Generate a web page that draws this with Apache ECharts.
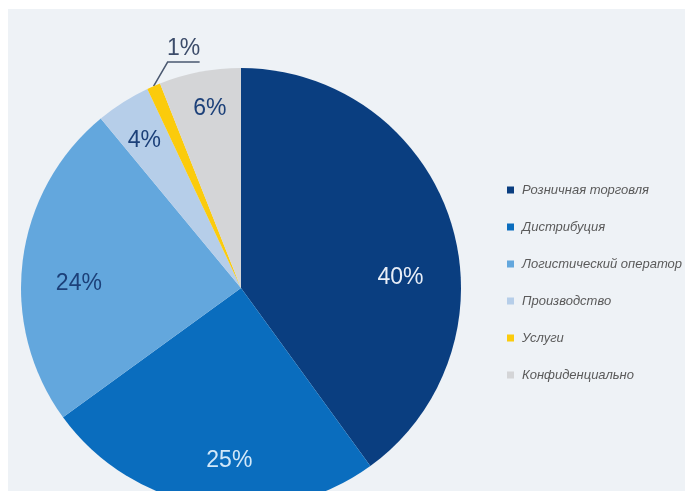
<!DOCTYPE html>
<html>
<head>
<meta charset="utf-8">
<script src="https://cdn.jsdelivr.net/npm/echarts@6/dist/echarts.min.js"></script>
<style>
  html, body { margin: 0; padding: 0; background: #ffffff; }
  #chart { position: absolute; left: 8px; top: 9px; width: 677px; height: 482px; }
</style>
</head>
<body>
<div id="chart"></div>
<script>
// Segments of the market, in percent
const categories = [
  'Розничная торговля',
  'Дистрибуция',
  'Логистический оператор',
  'Производство',
  'Услуги',
  'Конфиденциально'
];
const shares = [40, 25, 24, 4, 1, 6];

const sliceColors = ['#0a3e80', '#0a6dbe', '#63a7dd', '#b6cee9', '#fbcb0c', '#d4d5d7'];
const labelColors = ['#e8eef7', '#d2e8f9', '#1c4079', '#1c4079', '#3c4c6a', '#1c4079'];
// nudges of the inside labels away from the slice middle
const labelShift = [[52, 25], [6, 61], [-50, 10], [-36, -52], [0, 0], [-10, -68]];
const OUTSIDE_INDEX = 4;

const chart = echarts.init(document.getElementById('chart'), null, { renderer: 'canvas' });

const data = categories.map((name, i) => {
  const item = {
    name: name,
    value: shares[i],
    itemStyle: { color: sliceColors[i] },
    label: { color: labelColors[i] }
  };
  if (i === OUTSIDE_INDEX) {
    item.label = { position: 'outside', color: labelColors[i], fontSize: 23 };
    item.labelLine = {
      show: true,
      length: 20,
      length2: 30,
      lineStyle: { color: '#4a5870', width: 1.5 }
    };
  }
  return item;
});

chart.setOption({
  backgroundColor: '#eef2f6',
  animation: false,
  legend: {
    orient: 'vertical',
    left: 494,
    top: 169,
    icon: 'rect',
    itemWidth: 7,
    itemHeight: 7,
    itemGap: 23,
    selectedMode: false,
    data: categories,
    textStyle: {
      color: '#5a5a5a',
      fontSize: 13,
      fontStyle: 'italic',
      fontFamily: 'Liberation Sans, Arial, sans-serif',
      lineHeight: 14,
      padding: [0, 0, 0, 3]
    }
  },
  series: [{
    type: 'pie',
    center: [233, 279],
    radius: 220,
    startAngle: 90,
    clockwise: true,
    avoidLabelOverlap: false,
    silent: true,
    emphasis: { disabled: true },
    label: {
      show: true,
      position: 'inside',
      formatter: '{c}%',
      fontSize: 23,
      fontFamily: 'Liberation Sans, Arial, sans-serif'
    },
    labelLine: { show: false },
    labelLayout: function (p) {
      if (p.dataIndex === OUTSIDE_INDEX && p.labelLinePoints) {
        const a = p.labelLinePoints[0];
        const b = [a[0] + 14, a[1] - 24];
        const c = [b[0] + 32, b[1]];
        return {
          x: (b[0] + c[0]) / 2,
          y: b[1] - 2,
          align: 'center',
          verticalAlign: 'bottom',
          labelLinePoints: [a, b, c]
        };
      }
      const s = labelShift[p.dataIndex];
      return { dx: s[0], dy: s[1] };
    },
    data: data
  }]
});
</script>
</body>
</html>
